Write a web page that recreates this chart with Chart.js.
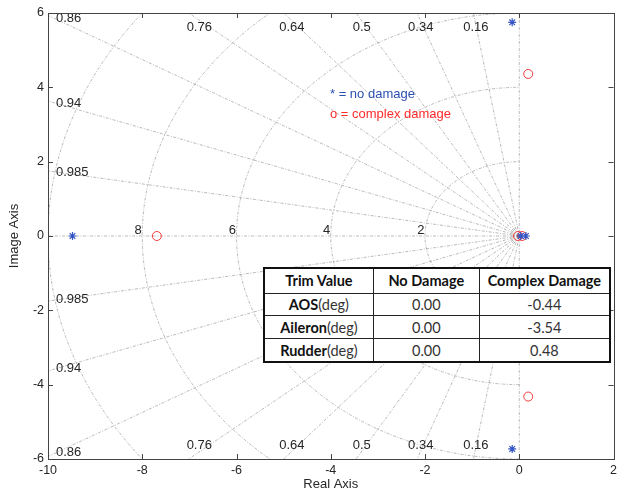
<!DOCTYPE html>
<html>
<head>
<meta charset="utf-8">
<script src="https://cdn.jsdelivr.net/npm/chart.js@4.4.1/dist/chart.umd.min.js"></script>
<style>
  html, body { margin: 0; padding: 0; background: #fff; }
  #wrap { position: relative; width: 621px; height: 493px; }
  #pzChart { position: absolute; left: 0; top: 0; }
  .note { position: absolute; left: 330px; font: 13px "Liberation Sans", Arial, sans-serif; white-space: nowrap; }
  #trimTable {
    position: absolute; left: 263px; top: 267px; width: 348px; height: 96px;
    border-collapse: collapse; background: #fff;
    font: 14.5px Lato, "Open Sans", sans-serif; color: #333;
    border: 2px solid #111;
  }
  #trimTable td, #trimTable th { border: 1.5px solid #222; text-align: center; padding: 0; }
  #trimTable th { font-weight: bold; color: #111; }
  #trimTable b { color: #111; }
</style>
</head>
<body>
<div id="wrap">
  <canvas id="pzChart" width="621" height="493"></canvas>
  <div class="note" id="note0" style="top:86px;color:#2b4fb0"></div>
  <div class="note" id="note1" style="top:106px;color:#ff2a2a"></div>
  <table id="trimTable"></table>
</div>
<script>
// pole locations
const noDamageRe = [-9.48, -0.15, -0.15, 0.03, 0.14];
const noDamageIm = [0, 5.75, -5.73, 0, 0];
const complexRe = [-7.69, 0.19, 0.19, -0.03, 0.06];
const complexIm = [0, 4.36, -4.32, 0, 0];

// sgrid values
const zetaValues = [0.16, 0.34, 0.5, 0.64, 0.76, 0.86, 0.94, 0.985];
const wnValues = [2, 4, 6, 8, 10];

// annotation texts
const legendNotes = ['* = no damage', 'o = complex damage'];
const tableHeader = ['Trim Value', 'No Damage', 'Complex Damage'];
const tableRows = ['AOS', 'Aileron', 'Rudder'];
const noDamageTrim = ['0.00', '0.00', '0.00'];
const complexTrim = ['-0.44', '-3.54', '0.48'];

document.addEventListener('DOMContentLoaded', function() {
    legendNotes.forEach((t, i) => { document.getElementById('note' + i).textContent = t; });

    // build the trim table
    const table = document.getElementById('trimTable');
    const widths = [109, 107, 132];
    let html = '<tr style="height:25px">' + tableHeader.map((h, i) => '<th style="width:' + widths[i] + 'px">' + h + '</th>').join('') + '</tr>';
    tableRows.forEach((r, i) => {
        html += '<tr><td><b>' + r + '</b>(deg)</td><td>' + noDamageTrim[i] + '</td><td>' + complexTrim[i] + '</td></tr>';
    });
    table.innerHTML = html;

    const labelFont = '13px "Liberation Sans", Arial, sans-serif';
    const gridColor = 'rgba(120,120,120,0.5)';

    // damping lines and natural frequency arcs, like MATLAB sgrid
    const sgridPlugin = {
        id: 'sgrid',
        beforeDatasetsDraw(chart) {
            const {ctx, chartArea: a, scales: {x: xs, y: ys}} = chart;
            const x0 = xs.getPixelForValue(0), y0 = ys.getPixelForValue(0);
            const kx = xs.getPixelForValue(1) - x0;
            const ky = y0 - ys.getPixelForValue(1);

            ctx.save();
            ctx.beginPath();
            ctx.rect(a.left, a.top, a.right - a.left, a.bottom - a.top);
            ctx.clip();
            ctx.strokeStyle = gridColor;
            ctx.lineWidth = 1;
            ctx.setLineDash([3, 1.5, 1, 1.5]);

            // real and imaginary axis lines
            ctx.beginPath();
            ctx.moveTo(a.left, y0); ctx.lineTo(x0, y0);
            ctx.moveTo(x0, a.top); ctx.lineTo(x0, a.bottom);
            ctx.stroke();

            wnValues.forEach(wn => {
                ctx.beginPath();
                ctx.ellipse(x0, y0, wn * kx, wn * ky, 0, Math.PI / 2, 3 * Math.PI / 2);
                ctx.stroke();
            });

            zetaValues.forEach(z => {
                const s = Math.sqrt(1 - z * z);
                [1, -1].forEach(sg => {
                    ctx.beginPath();
                    ctx.moveTo(x0, y0);
                    ctx.lineTo(x0 - 40 * z * kx, y0 - sg * 40 * s * ky);
                    ctx.stroke();
                });
            });
            ctx.restore();

            // labels
            ctx.save();
            ctx.font = labelFont;
            ctx.fillStyle = '#262626';
            ctx.textBaseline = 'middle';
            zetaValues.forEach(z => {
                const s = Math.sqrt(1 - z * z);
                const xHit = -ys.max * z / s;
                [1, -1].forEach(sg => {
                    if (xHit >= xs.min) {
                        ctx.textAlign = 'center';
                        const px = xs.getPixelForValue(xHit) + 2 + 15 * z * z;
                        const py = sg > 0 ? a.top + 14 : a.bottom - 14;
                        ctx.fillText(String(z), px, py);
                    } else {
                        const yHit = -xs.min * s / z;
                        let py = ys.getPixelForValue(sg * yHit) + (sg > 0 ? 2 : -2);
                        py = Math.min(Math.max(py, a.top + 5), a.bottom - 7);
                        ctx.textAlign = 'left';
                        ctx.fillText(String(z), a.left + 8, py);
                    }
                });
            });
            ctx.textAlign = 'right';
            ctx.textBaseline = 'alphabetic';
            wnValues.forEach(wn => {
                const px = x0 - wn * kx;
                if (px > a.left + 10) ctx.fillText(String(wn), px - 0.5, y0 - 2.5);
            });
            ctx.restore();
        },
        afterDraw(chart) {
            const {ctx, chartArea: a, scales: {x: xs, y: ys}} = chart;
            ctx.save();
            ctx.strokeStyle = '#444';
            ctx.lineWidth = 1;
            ctx.beginPath();
            xs.ticks.forEach(t => {
                const px = Math.round(xs.getPixelForValue(t.value)) + 0.5;
                ctx.moveTo(px, a.bottom); ctx.lineTo(px, a.bottom - 5);
                ctx.moveTo(px, a.top); ctx.lineTo(px, a.top + 5);
            });
            ys.ticks.forEach(t => {
                const py = Math.round(ys.getPixelForValue(t.value)) + 0.5;
                ctx.moveTo(a.left, py); ctx.lineTo(a.left + 5, py);
                ctx.moveTo(a.right, py); ctx.lineTo(a.right - 5, py);
            });
            ctx.stroke();
            ctx.strokeRect(Math.round(a.left) + 0.5, Math.round(a.top) + 0.5,
                Math.round(a.right - a.left), Math.round(a.bottom - a.top));
            ctx.restore();
        }
    };

    const tickFont = {family: '"Liberation Sans", Arial, sans-serif', size: 12.5};
    const titleFont = {family: '"Liberation Sans", Arial, sans-serif', size: 13};
    const ctx = document.getElementById('pzChart').getContext('2d');
    const pzChart = new Chart(ctx, {
        type: 'scatter',
        data: {
            datasets: [{
                label: 'no damage',
                data: noDamageRe.map((x, i) => ({x: x, y: noDamageIm[i]})),
                pointStyle: 'star',
                pointRadius: 4,
                borderColor: '#3556c4',
                borderWidth: 1.2,
                backgroundColor: '#3556c4'
            }, {
                label: 'complex damage',
                data: complexRe.map((x, i) => ({x: x, y: complexIm[i]})),
                pointStyle: 'circle',
                pointRadius: 4.5,
                borderColor: '#f23a3a',
                borderWidth: 1,
                backgroundColor: 'rgba(0,0,0,0)'
            }]
        },
        options: {
            responsive: false,
            animation: false,
            layout: {padding: {top: 13, right: 7, left: 0, bottom: 0}},
            plugins: {
                legend: {display: false},
                tooltip: {enabled: false}
            },
            scales: {
                x: {
                    type: 'linear',
                    min: -10,
                    max: 2,
                    ticks: {stepSize: 2, padding: 4, color: '#262626', font: tickFont, maxRotation: 0},
                    grid: {display: false, drawTicks: false},
                    border: {display: false},
                    title: {display: true, text: 'Real Axis', color: '#262626', font: titleFont, padding: {top: 0, bottom: 1}},
                    afterFit: function(scale) { scale.height = 34; }
                },
                y: {
                    type: 'linear',
                    min: -6,
                    max: 6,
                    ticks: {stepSize: 2, padding: 4, color: '#262626', font: tickFont},
                    grid: {display: false, drawTicks: false},
                    border: {display: false},
                    title: {display: true, text: 'Image Axis', color: '#262626', font: titleFont, padding: {top: 7, bottom: 0}},
                    afterFit: function(scale) { scale.width = 48; }
                }
            }
        },
        plugins: [sgridPlugin]
    });
});
</script>
</body>
</html>
